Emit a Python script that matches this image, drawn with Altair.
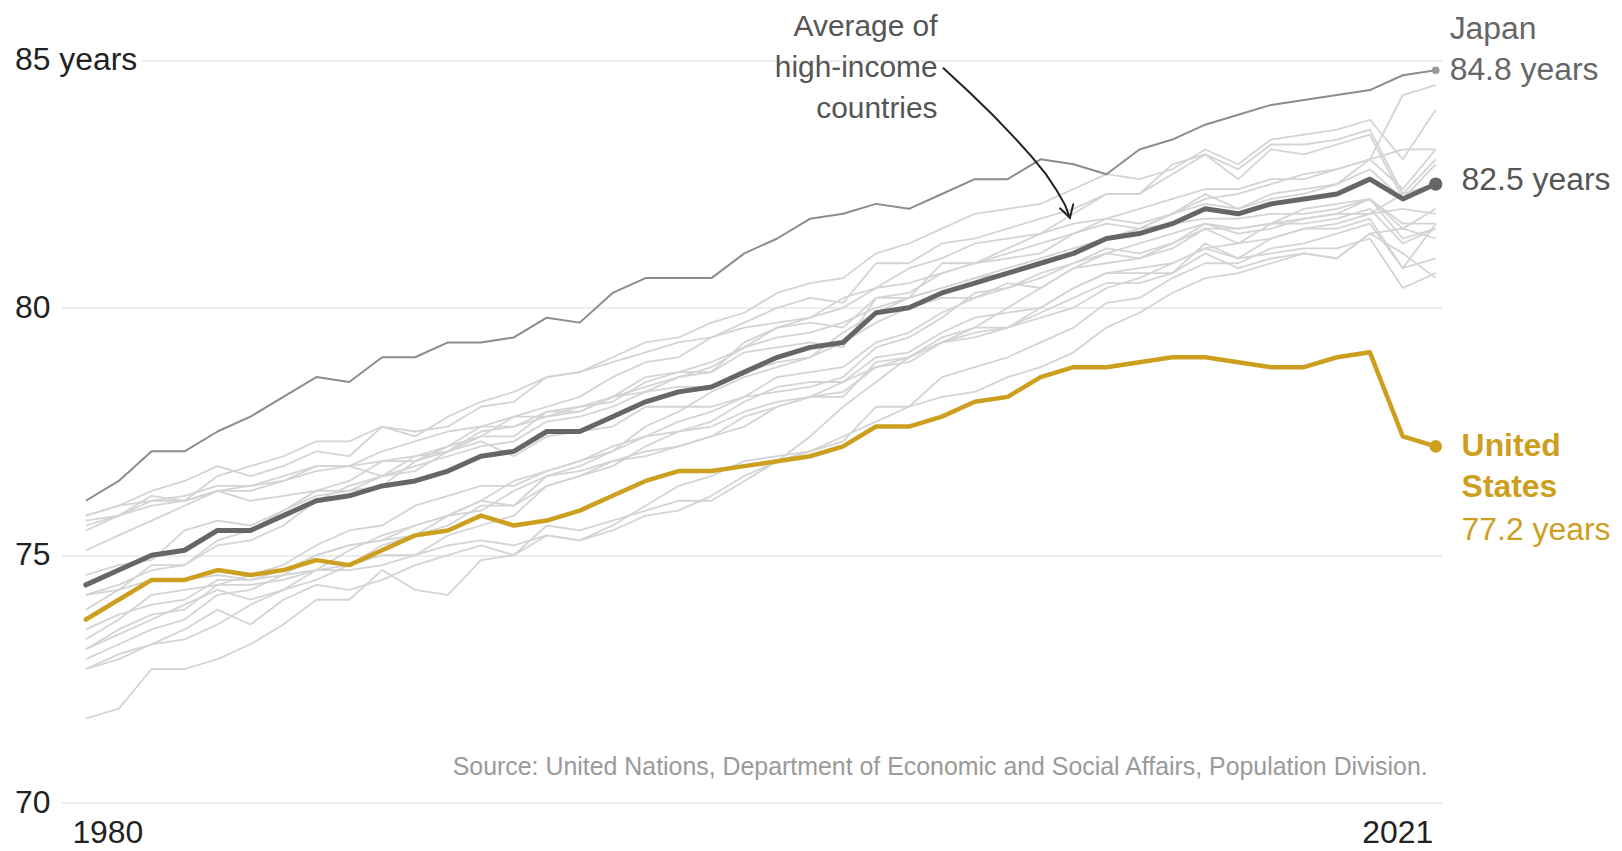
import altair as alt
import pandas as pd

years = list(range(1980, 2022))

us = [73.7, 74.1, 74.5, 74.5, 74.7, 74.6, 74.7, 74.9, 74.8, 75.1,
      75.4, 75.5, 75.8, 75.6, 75.7, 75.9, 76.2, 76.5, 76.7, 76.7,
      76.8, 76.9, 77.0, 77.2, 77.6, 77.6, 77.8, 78.1, 78.2, 78.6,
      78.8, 78.8, 78.9, 79.0, 79.0, 78.9, 78.8, 78.8, 79.0, 79.1,
      77.4, 77.2]
avg = [74.4, 74.7, 75.0, 75.1, 75.5, 75.5, 75.8, 76.1, 76.2, 76.4,
       76.5, 76.7, 77.0, 77.1, 77.5, 77.5, 77.8, 78.1, 78.3, 78.4,
       78.7, 79.0, 79.2, 79.3, 79.9, 80.0, 80.3, 80.5, 80.7, 80.9,
       81.1, 81.4, 81.5, 81.7, 82.0, 81.9, 82.1, 82.2, 82.3, 82.6,
       82.2, 82.5]
japan = [76.1, 76.5, 77.1, 77.1, 77.5, 77.8, 78.2, 78.6, 78.5, 79.0,
         79.0, 79.3, 79.3, 79.4, 79.8, 79.7, 80.3, 80.6, 80.6, 80.6,
         81.1, 81.4, 81.8, 81.9, 82.1, 82.0, 82.3, 82.6, 82.6, 83.0,
         82.9, 82.7, 83.2, 83.4, 83.7, 83.9, 84.1, 84.2, 84.3, 84.4,
         84.7, 84.8]

sweden = [75.8, 76.0, 76.3, 76.5, 76.8, 76.6, 76.8, 77.1, 77.0, 77.6,
          77.5, 77.6, 78.0, 78.1, 78.6, 78.7, 78.9, 79.1, 79.3, 79.4,
          79.6, 79.7, 79.8, 80.0, 80.4, 80.5, 80.7, 80.9, 81.1, 81.3,
          81.5, 81.7, 81.6, 81.9, 82.1, 82.0, 82.2, 82.3, 82.5, 83.0,
          82.4, 83.2]
netherlands = [75.8, 76.0, 76.1, 76.2, 76.4, 76.4, 76.5, 76.8, 76.8, 76.6,
               77.0, 77.1, 77.3, 77.0, 77.4, 77.5, 77.6, 78.0, 78.0, 78.0,
               78.2, 78.3, 78.4, 78.6, 79.2, 79.4, 79.8, 80.3, 80.4, 80.6,
               80.9, 81.2, 81.1, 81.3, 81.7, 81.5, 81.6, 81.8, 81.9, 82.2,
               81.4, 81.6]
norway = [75.7, 75.8, 76.0, 76.1, 76.3, 76.1, 76.2, 76.3, 76.3, 76.6,
          76.7, 77.1, 77.4, 77.4, 77.9, 77.9, 78.2, 78.3, 78.4, 78.4,
          78.7, 78.9, 79.0, 79.5, 79.9, 80.2, 80.4, 80.6, 80.7, 80.9,
          81.1, 81.4, 81.6, 81.9, 82.2, 82.3, 82.5, 82.7, 82.8, 83.0,
          83.2, 83.2]
switzerland = [75.6, 75.8, 76.1, 76.1, 76.6, 76.8, 77.0, 77.3, 77.3, 77.6,
               77.4, 77.8, 78.1, 78.3, 78.6, 78.7, 79.0, 79.3, 79.4, 79.7,
               79.9, 80.3, 80.5, 80.6, 81.1, 81.3, 81.6, 81.9, 82.0, 82.1,
               82.4, 82.7, 82.6, 82.8, 83.2, 82.9, 83.4, 83.5, 83.6, 83.8,
               83.0, 84.0]
spain = [75.5, 75.8, 76.2, 76.1, 76.3, 76.4, 76.6, 76.8, 76.8, 76.9,
         76.9, 77.1, 77.5, 77.6, 77.9, 78.0, 78.2, 78.6, 78.7, 78.7,
         79.3, 79.6, 79.7, 79.6, 80.2, 80.2, 80.9, 80.9, 81.2, 81.5,
         81.9, 82.3, 82.3, 82.9, 83.1, 82.8, 83.3, 83.3, 83.4, 83.6,
         82.3, 83.0]
italy = [73.9, 74.3, 74.8, 74.8, 75.3, 75.5, 75.9, 76.3, 76.5, 76.9,
         77.0, 77.2, 77.6, 77.8, 78.0, 78.2, 78.6, 78.9, 79.0, 79.4,
         79.7, 80.0, 80.2, 80.1, 80.9, 80.9, 81.3, 81.4, 81.6, 81.8,
         82.0, 82.3, 82.3, 82.7, 83.1, 82.6, 83.2, 83.1, 83.3, 83.5,
         82.2, 82.9]
france = [74.2, 74.4, 74.7, 74.8, 75.2, 75.3, 75.6, 76.1, 76.4, 76.6,
          76.8, 77.0, 77.2, 77.3, 77.7, 77.8, 78.0, 78.3, 78.6, 78.7,
          79.1, 79.2, 79.3, 79.2, 80.2, 80.3, 80.7, 80.9, 81.0, 81.1,
          81.5, 81.8, 81.7, 81.9, 82.3, 82.0, 82.3, 82.4, 82.5, 82.8,
          82.2, 82.5]
new_zealand = [73.1, 73.4, 73.7, 74.0, 74.3, 74.1, 74.3, 74.5, 74.8, 75.2,
               75.4, 75.8, 76.1, 76.5, 76.7, 76.9, 77.1, 77.6, 77.9, 78.3,
               78.6, 78.8, 79.0, 79.3, 79.7, 80.0, 80.2, 80.2, 80.4, 80.7,
               80.9, 81.1, 81.3, 81.5, 81.7, 81.6, 81.7, 81.8, 81.9, 81.9,
               82.3, 82.5]
ireland = [72.7, 72.9, 73.2, 73.5, 73.9, 73.6, 74.1, 74.4, 74.3, 74.5,
           74.8, 75.0, 75.2, 75.0, 75.6, 75.5, 75.7, 75.9, 76.1, 76.1,
           76.5, 76.9, 77.4, 78.0, 78.5, 79.0, 79.3, 79.6, 80.0, 80.4,
           80.8, 80.9, 81.0, 81.3, 81.6, 81.6, 81.7, 82.0, 82.1, 82.2,
           81.6, 82.0]
portugal = [71.7, 71.9, 72.7, 72.7, 72.9, 73.2, 73.6, 74.1, 74.1, 74.7,
            74.3, 74.2, 74.9, 75.0, 75.4, 75.3, 75.5, 75.8, 75.9, 76.2,
            76.6, 76.9, 77.1, 77.3, 78.0, 78.0, 78.6, 78.8, 79.0, 79.3,
            79.6, 80.1, 80.2, 80.6, 80.9, 80.9, 81.2, 81.3, 81.5, 81.7,
            80.8, 81.0]
austria = [72.7, 73.0, 73.2, 73.3, 73.6, 74.0, 74.3, 74.7, 75.1, 75.4,
           75.6, 75.8, 75.9, 76.3, 76.6, 76.8, 77.1, 77.4, 77.7, 77.9,
           78.2, 78.6, 78.7, 78.8, 79.3, 79.5, 79.9, 80.2, 80.5, 80.4,
           80.8, 81.1, 81.0, 81.2, 81.6, 81.3, 81.7, 81.7, 81.8, 82.0,
           81.3, 81.6]
germany = [72.9, 73.2, 73.5, 73.7, 74.2, 74.3, 74.6, 75.0, 75.2, 75.3,
           75.4, 75.6, 76.0, 76.0, 76.4, 76.6, 76.8, 77.2, 77.5, 77.7,
           78.1, 78.4, 78.5, 78.5, 79.0, 79.1, 79.5, 79.8, 79.9, 80.0,
           80.4, 80.7, 80.7, 80.7, 81.1, 80.8, 81.0, 81.1, 81.0, 81.5,
           81.1, 80.6]
belgium = [73.1, 73.5, 73.8, 73.9, 74.4, 74.6, 74.8, 75.2, 75.5, 75.6,
           76.0, 76.2, 76.4, 76.4, 76.7, 76.9, 77.2, 77.4, 77.5, 77.6,
           77.9, 78.1, 78.2, 78.2, 78.9, 79.0, 79.4, 79.6, 79.6, 79.9,
           80.2, 80.5, 80.5, 80.7, 81.3, 81.0, 81.4, 81.6, 81.6, 81.8,
           80.8, 81.7]
united_kingdom = [73.5, 73.8, 74.0, 74.1, 74.5, 74.5, 74.7, 75.0, 75.2, 75.3,
                  75.6, 75.8, 76.1, 76.0, 76.6, 76.7, 76.9, 77.1, 77.2, 77.4,
                  77.8, 78.0, 78.2, 78.3, 78.8, 79.0, 79.3, 79.5, 79.6, 80.0,
                  80.4, 80.7, 80.8, 80.9, 81.2, 81.0, 81.1, 81.2, 81.2, 81.4,
                  80.4, 80.7]
denmark = [74.2, 74.3, 74.5, 74.5, 74.6, 74.5, 74.6, 74.7, 74.8, 75.0,
           75.0, 75.2, 75.3, 75.2, 75.4, 75.3, 75.6, 76.0, 76.4, 76.6,
           76.9, 77.0, 77.1, 77.4, 77.7, 78.0, 78.2, 78.3, 78.6, 78.8,
           79.1, 79.6, 79.9, 80.3, 80.6, 80.7, 80.9, 81.1, 81.0, 81.5,
           81.6, 81.4]
canada = [75.1, 75.4, 75.7, 76.0, 76.3, 76.3, 76.5, 76.7, 76.8, 77.1,
          77.3, 77.5, 77.6, 77.6, 77.8, 77.9, 78.2, 78.4, 78.6, 78.8,
          79.2, 79.4, 79.5, 79.7, 80.0, 80.2, 80.4, 80.6, 80.8, 81.0,
          81.2, 81.4, 81.6, 81.7, 81.8, 81.8, 81.9, 81.9, 82.0, 82.2,
          81.7, 81.7]
finland = [73.3, 73.7, 74.2, 74.3, 74.4, 74.4, 74.5, 74.7, 74.7, 74.8,
           75.0, 75.4, 75.6, 75.8, 76.4, 76.6, 76.9, 77.0, 77.2, 77.4,
           77.6, 78.0, 78.2, 78.5, 78.8, 78.9, 79.3, 79.4, 79.6, 79.8,
           80.0, 80.4, 80.6, 80.9, 81.2, 81.3, 81.4, 81.6, 81.7, 81.9,
           82.0, 81.9]
australia = [74.6, 74.8, 74.9, 75.5, 75.7, 75.6, 75.9, 76.2, 76.3, 76.4,
             76.9, 77.2, 77.4, 77.8, 77.8, 78.0, 78.1, 78.5, 78.7, 78.9,
             79.2, 79.6, 79.8, 80.2, 80.4, 80.8, 81.0, 81.3, 81.4, 81.5,
             81.7, 81.8, 82.0, 82.2, 82.4, 82.4, 82.6, 82.6, 82.8, 83.0,
             84.3, 84.5]

others = {
    "Sweden": sweden, "Netherlands": netherlands, "Norway": norway,
    "Switzerland": switzerland, "Spain": spain, "Italy": italy,
    "France": france, "New Zealand": new_zealand, "Ireland": ireland,
    "Portugal": portugal, "Austria": austria, "Germany": germany,
    "Belgium": belgium, "United Kingdom": united_kingdom, "Denmark": denmark,
    "Canada": canada, "Finland": finland, "Australia": australia,
}

y_tick_values = [70, 75, 80, 85]
y_tick_labels = ["70", "75", "80", "85 years"]
x_tick_values = [1980, 2021]

annotation_text = "Average of\nhigh-income\ncountries"
source_text = "Source: United Nations, Department of Economic and Social Affairs, Population Division."

# arrow path (year, value) hand-placed in data units
arrow_years = [2006.05, 2006.86, 2007.57, 2008.19, 2008.72, 2009.16, 2009.49, 2009.74, 2009.89]
arrow_values = [84.84, 84.34, 83.88, 83.45, 83.06, 82.70, 82.37, 82.08, 81.82]
arrowhead_years = [2009.99, 2009.89, 2009.59]
arrowhead_values = [82.09, 81.82, 82.01]

# ---------------- tables ----------------
rows = []
for name, vals in others.items():
    for yr, v in zip(years, vals):
        rows.append({"country": name, "year": yr, "value": v})
df_others = pd.DataFrame(rows)
df_us = pd.DataFrame({"year": years, "value": us})
df_avg = pd.DataFrame({"year": years, "value": avg})
df_jp = pd.DataFrame({"year": years, "value": japan})
df_ylab = pd.DataFrame({"value": y_tick_values, "label": y_tick_labels})
df_arrow = pd.DataFrame({"year": arrow_years, "value": arrow_values, "o": list(range(len(arrow_years)))})
df_head = pd.DataFrame({"year": arrowhead_years, "value": arrowhead_values, "o": [0, 1, 2]})

FONT = "Liberation Sans"
GOLD = "#cc9f1e"
DARK = "#666666"
JP = "#8c8c8c"
LIGHT = "#d4d4d4"

W, H = 1385, 745

xscale = alt.Scale(domain=[1979.27, 2021.18], nice=False, zero=False)
yscale = alt.Scale(domain=[70, 85], nice=False, zero=False)

X = alt.X("year:Q", scale=xscale, axis=alt.Axis(
    values=x_tick_values, format="d", title=None, grid=False, domain=False,
    ticks=False, labelFontSize=32, labelColor="#222222", labelFont=FONT,
    labelPadding=15,
    labelAlign={"expr": "datum.value < 2000 ? 'left' : 'right'"},
    labelOffset={"expr": "datum.value < 2000 ? -14 : -3"},
))
Y = alt.Y("value:Q", scale=yscale, axis=alt.Axis(
    values=y_tick_values, title=None, labels=False, ticks=False, domain=False,
    grid=True, gridColor="#e4e4e4", gridWidth=1.5,
))

light = alt.Chart(df_others).mark_line(
    color=LIGHT, strokeWidth=1.8, strokeJoin="round"
).encode(x=X, y=Y, detail="country:N")

jp_line = alt.Chart(df_jp).mark_line(color=JP, strokeWidth=2, strokeJoin="round").encode(x=X, y=Y)
avg_line = alt.Chart(df_avg).mark_line(color=DARK, strokeWidth=5, strokeJoin="round", strokeCap="round").encode(x=X, y=Y)
us_line = alt.Chart(df_us).mark_line(color=GOLD, strokeWidth=4.5, strokeJoin="round", strokeCap="round").encode(x=X, y=Y)

jp_dot = alt.Chart(df_jp.tail(1)).mark_circle(color="#999999", size=60, opacity=1).encode(x=X, y=Y)
avg_dot = alt.Chart(df_avg.tail(1)).mark_circle(color=DARK, size=180, opacity=1).encode(x=X, y=Y)
us_dot = alt.Chart(df_us.tail(1)).mark_circle(color=GOLD, size=160, opacity=1).encode(x=X, y=Y)

end_jp = pd.DataFrame({"year": [years[-1]], "value": [japan[-1]], "t": [f"{japan[-1]} years"], "n": ["Japan"]})
end_avg = pd.DataFrame({"year": [years[-1]], "value": [avg[-1]], "t": [f"{avg[-1]} years"]})
end_us = pd.DataFrame({"year": [years[-1]], "value": [us[-1]], "t": [f"{us[-1]} years"],
                       "a": ["United"], "b": ["States"]})

txt = dict(font=FONT, fontSize=32, align="left", baseline="middle")
jp_name = alt.Chart(end_jp).mark_text(color="#666666", dx=14, dy=-41, **txt).encode(x=X, y=Y, text="n:N")
jp_val = alt.Chart(end_jp).mark_text(color="#666666", dx=14, dy=0, **txt).encode(x=X, y=Y, text="t:N")
avg_val = alt.Chart(end_avg).mark_text(color="#555555", dx=26, dy=-4, **txt).encode(x=X, y=Y, text="t:N")
us_a = alt.Chart(end_us).mark_text(color=GOLD, dx=26, dy=0, fontWeight="bold", **txt).encode(x=X, y=Y, text="a:N")
us_b = alt.Chart(end_us).mark_text(color=GOLD, dx=26, dy=41, fontWeight="bold", **txt).encode(x=X, y=Y, text="b:N")
us_c = alt.Chart(end_us).mark_text(color=GOLD, dx=26, dy=84, **txt).encode(x=X, y=Y, text="t:N")

ann = alt.Chart(pd.DataFrame({"t": [annotation_text]})).mark_text(
    font=FONT, fontSize=30, color="#555555", align="right", baseline="middle",
    lineBreak="\n", lineHeight=41,
).encode(text="t:N", x=alt.value(879), y=alt.value(-33))

arrow = alt.Chart(df_arrow).mark_line(color="#222222", strokeWidth=2, strokeCap="round").encode(
    x=X, y=Y, order="o:Q")
head = alt.Chart(df_head).mark_line(color="#222222", strokeWidth=2, strokeCap="round", strokeJoin="miter").encode(
    x=X, y=Y, order="o:Q")

src = alt.Chart(pd.DataFrame({"t": [source_text]})).mark_text(
    font=FONT, fontSize=25, color="#9a9a9a", align="right", baseline="middle",
).encode(text="t:N", x=alt.value(1371), y=alt.value(709))

ylab_halo = alt.Chart(df_ylab).mark_text(
    font=FONT, fontSize=32, align="left", baseline="middle",
    fill="white", stroke="white", strokeWidth=14, strokeJoin="round",
).encode(x=alt.value(-47), y=Y, text="label:N")
ylab = alt.Chart(df_ylab).mark_text(
    font=FONT, fontSize=32, align="left", baseline="middle", color="#222222",
).encode(x=alt.value(-47), y=Y, text="label:N")

chart = alt.layer(
    light, jp_line, avg_line, us_line, jp_dot, avg_dot, us_dot,
    jp_name, jp_val, avg_val, us_a, us_b, us_c,
    ann, arrow, head, src, ylab_halo, ylab,
).properties(
    width=W, height=H,
    padding={"left": 54, "top": 51, "right": 173, "bottom": 48},
    autosize=alt.AutoSizeParams(type="none"),
    background="white",
).configure_view(strokeWidth=0, stroke=None)

chart.save("out.html", embed_options={"renderer": "svg", "actions": False})
